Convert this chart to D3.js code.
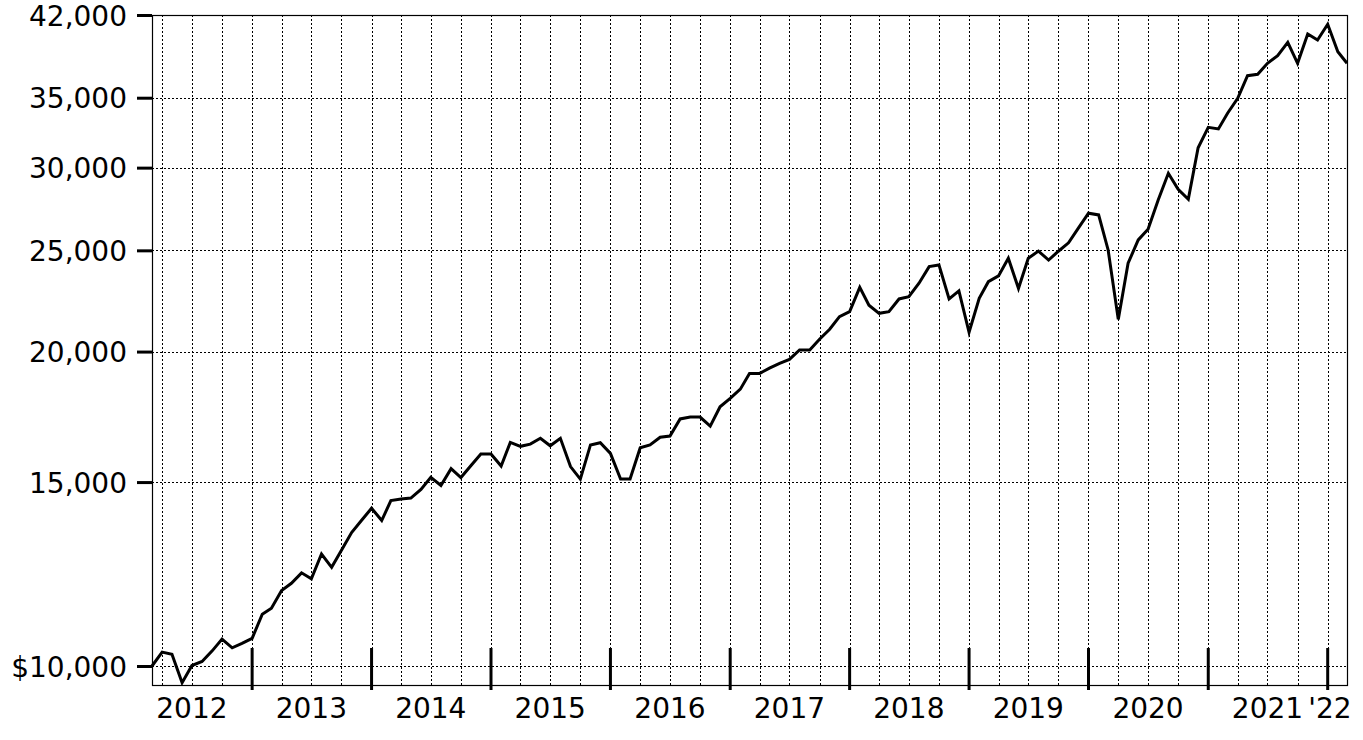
<!DOCTYPE html>
<html>
<head>
<meta charset="utf-8">
<script src="https://cdn.jsdelivr.net/npm/d3@7"></script>
<style>
  html, body { margin: 0; padding: 0; background: #fff; }
  svg { display: block; }
  text { font-family: "DejaVu Sans", Verdana, sans-serif; fill: #000; }
</style>
</head>
<body>
<svg id="chart" width="1363" height="740"></svg>
<script>
// ---- data ----
const firstMonth = "2012-03-01";
const values = [
  10000, 10310, 10260, 9640, 10010, 10100, 10340, 10610, 10410, 10510,
  10630, 11210, 11360, 11810, 12000, 12280, 12120, 12800, 12430, 12910,
  13420, 13780, 14160, 13780, 14400, 14450, 14480, 14760, 15160, 14890,
  15450, 15150, 15560, 15960, 15960, 15540, 16370, 16230, 16310, 16520,
  16250, 16520, 15520, 15100, 16280, 16360, 15980, 15100, 15100, 16180,
  16280, 16560, 16600, 17240, 17310, 17310, 16970, 17710, 18040, 18410,
  19060, 19060, 19280, 19490, 19660, 20070, 20070, 20550, 21010, 21600,
  21840, 23040, 22150, 21760, 21840, 22460, 22570, 23250, 24120, 24210,
  22460, 22860, 20870, 22490, 23330, 23630, 24570, 22990, 24570, 24960,
  24470, 24950, 25420, 26250, 27130, 27030, 25020, 21470, 24300, 25580,
  26190, 27940, 29630, 28600, 27980, 31340, 32790, 32670, 33820, 34960,
  36740, 36850, 37760, 38400, 39550, 37760, 40280, 39750, 41150, 38740,
  37760
];
const yTickValues = [10000, 15000, 20000, 25000, 30000, 35000, 42000];
const yTickLabels = ["$10,000", "15,000", "20,000", "25,000", "30,000", "35,000", "42,000"];
const yearBreaks = ["2013-01-01", "2014-01-01", "2015-01-01", "2016-01-01", "2017-01-01",
                    "2018-01-01", "2019-01-01", "2020-01-01", "2021-01-01", "2022-01-01"];
const yearLabels = ["2012", "2013", "2014", "2015", "2016", "2017", "2018", "2019", "2020", "2021", "'22"];
const yearLabelDates = ["2012-07-01", "2013-07-01", "2014-07-01", "2015-07-01", "2016-07-01",
                        "2017-07-01", "2018-07-01", "2019-07-01", "2020-07-01", "2021-07-01", "2022-01-08"];
const xDomain = ["2012-03-01", "2022-03-01"];
const yDomain = [9590, 42000];

(function () {
  // ---- layout ----
  const parse = d3.utcParse("%Y-%m-%d");
  const pLeft = 152, pRight = 1347, pTop = 15, pBottom = 685;
  const svg = d3.select("#chart");

  const start = parse(firstMonth);
  const data = values.map((v, i) => ({ date: d3.utcMonth.offset(start, i), value: v }));

  const x = d3.scaleUtc().domain(xDomain.map(parse)).range([pLeft, pRight]);
  const y = d3.scaleLog().domain(yDomain).range([pBottom, pTop]);

  // grid: vertical quarterly
  const quarters = d3.utcMonth.every(3).range(d3.utcMonth.offset(x.domain()[0], 1), x.domain()[1]);
  svg.append("g").selectAll("line").data(quarters).join("line")
    .attr("x1", d => Math.round(x(d)) + 0.5).attr("x2", d => Math.round(x(d)) + 0.5)
    .attr("y1", pTop).attr("y2", pBottom)
    .attr("stroke", "#000").attr("stroke-width", 1).attr("stroke-dasharray", "2,2");

  // grid: horizontal
  svg.append("g").selectAll("line").data(yTickValues).join("line")
    .attr("x1", pLeft).attr("x2", pRight)
    .attr("y1", d => Math.round(y(d)) + 0.5).attr("y2", d => Math.round(y(d)) + 0.5)
    .attr("stroke", "#000").attr("stroke-width", 1).attr("stroke-dasharray", "2,2");

  // frame
  svg.append("rect").attr("x", pLeft + 0.5).attr("y", pTop + 0.5)
    .attr("width", pRight - pLeft).attr("height", pBottom - pTop)
    .attr("fill", "none").attr("stroke", "#000").attr("stroke-width", 1.2);

  // y axis
  const yAxis = d3.axisLeft(y).tickValues(yTickValues)
    .tickFormat((d, i) => yTickLabels[i]).tickSize(15).tickPadding(10);
  const gy = svg.append("g").attr("transform", `translate(${pLeft},0)`).call(yAxis);
  gy.select(".domain").remove();
  gy.selectAll(".tick line").attr("stroke", "#000").attr("stroke-width", 3);
  gy.selectAll(".tick text").attr("font-size", 28).attr("dy", "0.36em")
    .style("font-family", "'DejaVu Sans', Verdana, sans-serif").attr("fill", "#000");

  // year break ticks
  svg.append("g").selectAll("line").data(yearBreaks.map(parse)).join("line")
    .attr("x1", d => x(d)).attr("x2", d => x(d))
    .attr("y1", 648).attr("y2", 690)
    .attr("stroke", "#000").attr("stroke-width", 3);

  // year labels
  svg.append("g").selectAll("text").data(yearLabels).join("text")
    .attr("x", (d, i) => x(parse(yearLabelDates[i])))
    .attr("y", 718)
    .attr("text-anchor", "middle")
    .attr("font-size", 28)
    .text(d => d);

  // line
  const line = d3.line().x(d => x(d.date)).y(d => y(d.value));
  svg.append("path").datum(data)
    .attr("d", line)
    .attr("fill", "none").attr("stroke", "#000").attr("stroke-width", 3)
    .attr("stroke-linejoin", "miter");
})();
</script>
</body>
</html>
